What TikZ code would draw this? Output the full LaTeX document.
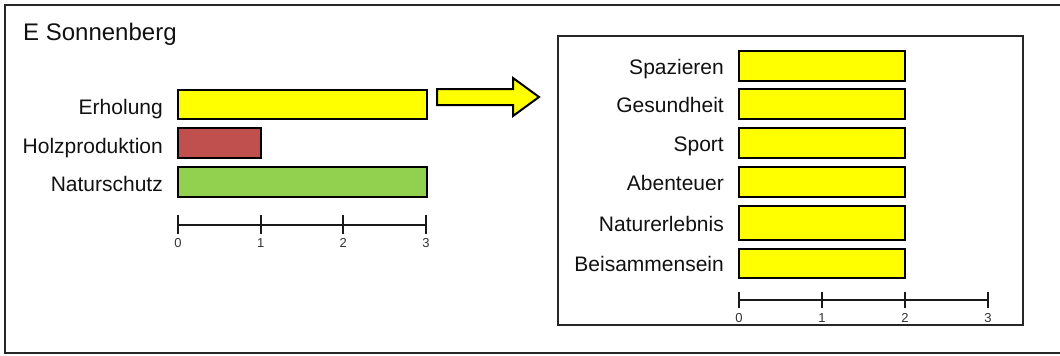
\documentclass[tikz,border=0pt]{standalone}
\usepackage{fontspec}
\setmainfont{Liberation Sans}
\definecolor{byel}{HTML}{FFFF00}
\definecolor{bred}{HTML}{C0504D}
\definecolor{bgreen}{HTML}{92D050}
\definecolor{txt}{HTML}{111111}
\begin{document}
\begin{tikzpicture}[x=1pt,y=-1pt,
  bar/.style={draw=black, line width=2.2pt, anchor=north west, inner sep=0pt, outer sep=0pt},
  lab/.style={anchor=base east, inner sep=0pt, font=\fontsize{21}{25}\selectfont, text=txt},
  ticklab/.style={anchor=base, inner sep=0pt, font=\fontsize{13}{15}\selectfont, text=black!80},
  frame/.style={draw=black!85, line width=2pt},
  axisline/.style={draw=black!90, line width=2pt}]
\useasboundingbox (0,0) rectangle (1060,356);
% outer frame
\draw[frame] (5,5) rectangle (1066,353);
\node[anchor=base west, inner sep=0pt, font=\fontsize{24}{28}\selectfont, text=txt] (title) at (23,40) {E Sonnenberg};
% left chart
\node[bar, fill=byel, minimum width=249pt, minimum height=29pt] (erh) at (178,90) {};
\node[bar, fill=bred, minimum width=83pt, minimum height=30pt] (holz) at (178,128) {};
\node[bar, fill=bgreen, minimum width=249pt, minimum height=30pt] (natur) at (178,167) {};
\node[lab] (lerh) at (163,114) {Erholung};
\node[lab] (lholz) at (163,153) {Holzproduktion};
\node[lab] (lnatur) at (163,191.5) {Naturschutz};
\draw[axisline] (178,225) -- (426,225);
\foreach \i in {0,1,2,3}{
  \draw[axisline] ({178+82.67*\i},215) -- ({178+82.67*\i},234);
  \node[ticklab] (lt\i) at ({178+82.67*\i},247) {\i};
}
% arrow
\draw[fill=byel, draw=black, line width=2pt, line join=miter]
  (437,89) -- (513,89) -- (513,78) -- (539,97) -- (513,116) -- (513,105) -- (437,105) -- cycle;
% right box
\draw[frame] (558,36) rectangle (1023,325);
\foreach \n/\t/\h/\name in {1/51/30/Spazieren,2/89/30/Gesundheit,3/128/30/Sport,4/167/30/Abenteuer,5/206/34/Naturerlebnis,6/249/29/Beisammensein}{
  \node[bar, fill=byel, minimum width=166pt, minimum height=\h pt] (rb\n) at (739,\t) {};
  \node[lab] (rl\n) at (724,{\t+\h/2+8}) {\name};
}
\draw[axisline] (739,300) -- (988,300);
\foreach \i in {0,1,2,3}{
  \draw[axisline] ({739+83*\i},292) -- ({739+83*\i},308);
  \node[ticklab] (rt\i) at ({739+83*\i},322) {\i};
}
\end{tikzpicture}
\end{document}
